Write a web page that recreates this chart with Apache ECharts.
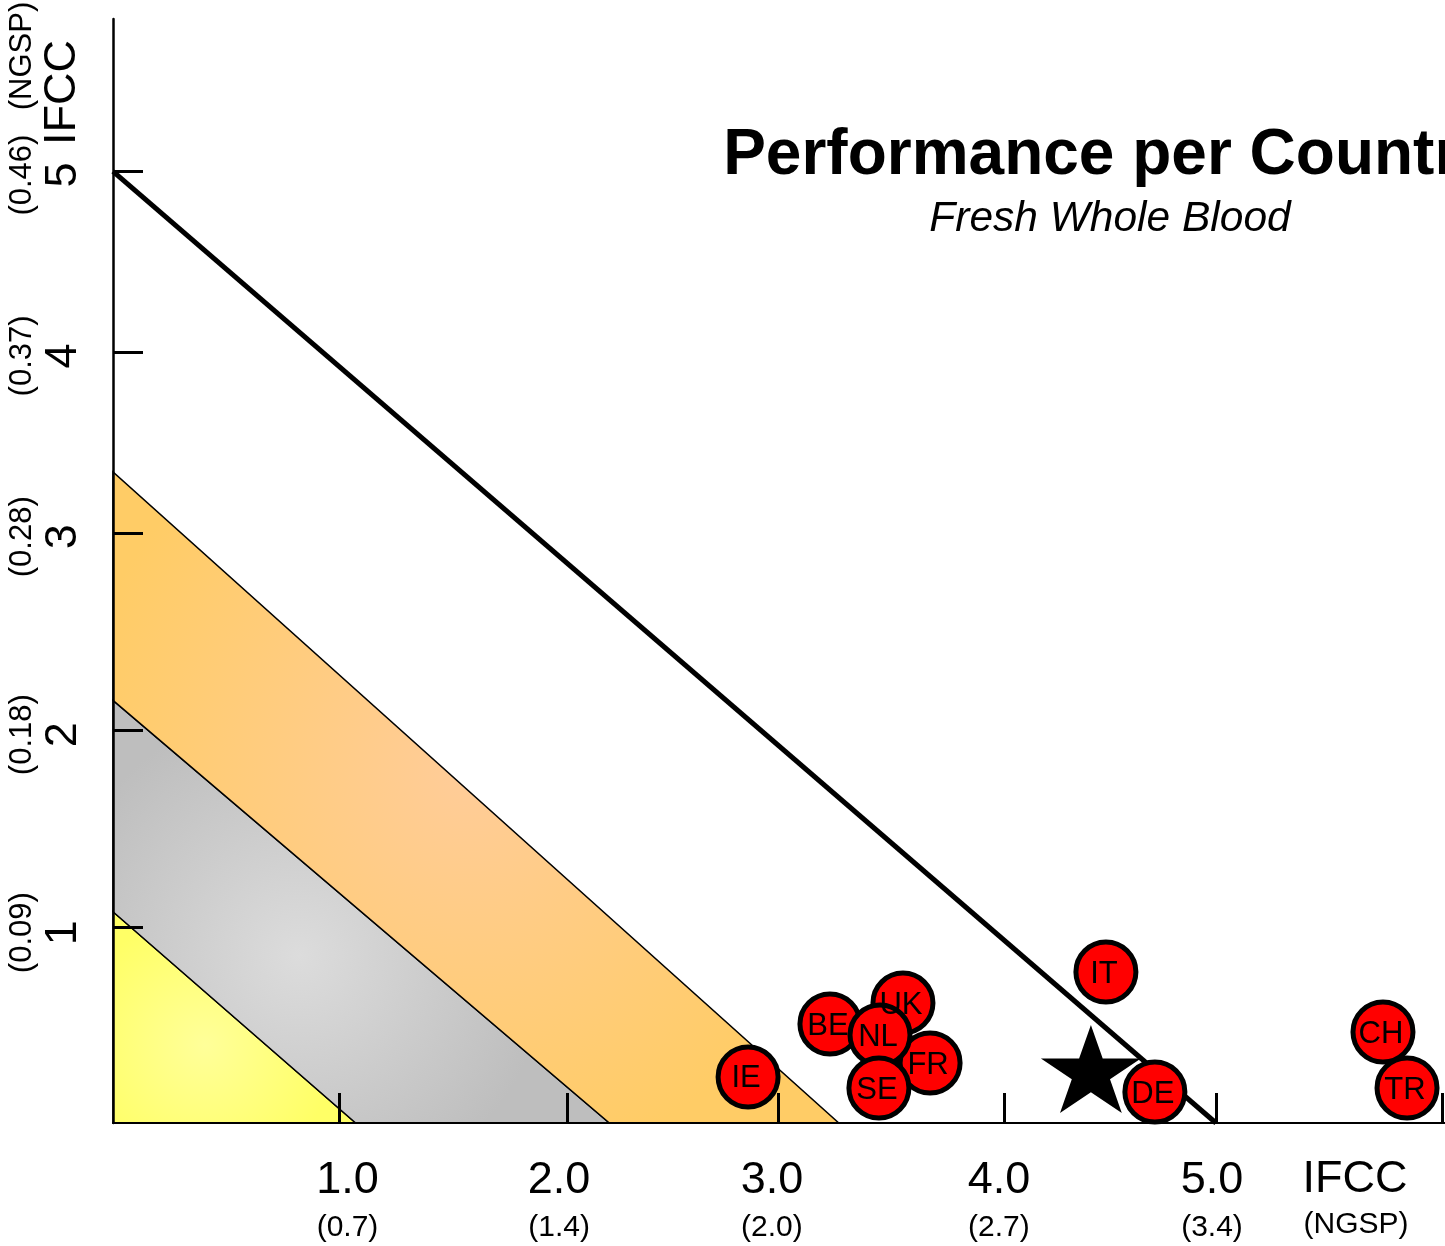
<!DOCTYPE html>
<html><head><meta charset="utf-8">
<script src="https://cdn.jsdelivr.net/npm/echarts@6/dist/echarts.min.js"></script>
<style>html,body{margin:0;padding:0;background:#fff;overflow:hidden}#c{width:1445px;height:1246px}</style>
</head><body><div id="c"></div>
<script>
// ---- data ----
const countries = ['BE','UK','FR','NL','SE','IE','IT','DE','CH','TR'];
const countryX  = [3.250, 3.581, 3.704, 3.477, 3.472, 2.879, 4.501, 4.723, 5.757, 5.866];
const countryY  = [0.520, 0.630, 0.315, 0.462, 0.184, 0.242, 0.793, 0.163, 0.478, 0.184];
const targetName = ['Target'];
const targetX = [4.433];
const targetY = [0.284];
const diagonalX = [0, 5];
const diagonalY = [5, 0];
const bandNames = ['band1', 'band2', 'band3'];
const bandXIntercepts = [1.10, 2.25, 3.29];
const bandYIntercepts = [1.11, 2.22, 3.42];
const xTickValues  = [1.024, 2.058, 3.014, 4.039, 5.000, 6.024];
const xLabelValues = [1.063, 2.022, 2.987, 4.016, 4.982];
const xTickLabels  = ['1.0', '2.0', '3.0', '4.0', '5.0'];
const xTickNgsp    = ['(0.7)', '(1.4)', '(2.0)', '(2.7)', '(3.4)'];
const yTickValues  = [1.029, 2.064, 3.099, 4.050, 5.000];
const yLabelValues = [1.000, 2.040, 3.080, 4.030, 4.980];
const yTickLabels  = ['1', '2', '3', '4', '5'];
const yTickNgsp    = ['(0.09)', '(0.18)', '(0.28)', '(0.37)', '(0.46)'];

// ---- styles ----
const FONT = 'Liberation Sans';
const bandStyles = [
  {c0: '#FFFF99', c1: '#FFFF66', gx: 0.38, gy: 0.63, gr: 0.62},
  {c0: '#DCDCDC', c1: '#BEBEBE', gx: 0.376, gy: 0.603, gr: 0.59},
  {c0: '#FFCC99', c1: '#FFCC66', gx: 0.49, gy: 0.46, gr: 0.61}
];
const starPath = 'path://M50,0 L61.23,34.55 L97.55,34.55 L68.16,55.9 L79.39,90.45 L50,69.1 L20.61,90.45 L31.84,55.9 L2.45,34.55 L38.77,34.55 Z';

const bandData = bandNames.map((n, i) => ({
  name: n,
  value: [i ? bandXIntercepts[i - 1] : 0, i ? bandYIntercepts[i - 1] : 0, bandXIntercepts[i], bandYIntercepts[i], i]
}));

const chart = echarts.init(document.getElementById('c'), null, {renderer: 'canvas'});
chart.setOption({
  animation: false,
  backgroundColor: '#fff',
  textStyle: {fontFamily: FONT},
  grid: {left: 113, top: 19, width: 1367.7, height: 1104, containLabel: false, outerBoundsMode: 'none'},
  xAxis: {
    type: 'value', min: 0, max: 6.2, z: 3,
    splitLine: {show: false},
    axisLine: {show: true, onZero: false, lineStyle: {color: '#000', width: 2}},
    axisTick: {show: true, inside: true, length: 30, lineStyle: {color: '#000', width: 3}, customValues: xTickValues},
    axisLabel: {
      margin: 33, customValues: xLabelValues,
      formatter: (v, idx) => {
        const i = xLabelValues.indexOf(v);
        const k = i >= 0 ? i : idx;
        return (k >= 0 && k < xTickLabels.length) ? '{b|' + xTickLabels[k] + '}\n{n|' + xTickNgsp[k] + '}' : '';
      },
      rich: {
        b: {fontSize: 45, lineHeight: 50, color: '#000', fontFamily: FONT},
        n: {fontSize: 30, lineHeight: 43, color: '#000', fontFamily: FONT}
      }
    }
  },
  yAxis: {
    type: 'value', min: 0, max: 5.8, z: 3,
    splitLine: {show: false},
    axisLine: {show: true, onZero: false, lineStyle: {color: '#000', width: 2.5}},
    axisTick: {show: true, inside: true, length: 30, lineStyle: {color: '#000', width: 3}, customValues: yTickValues},
    axisLabel: {
      margin: 27, rotate: 90, customValues: yLabelValues,
      formatter: (v, idx) => {
        const i = yLabelValues.indexOf(v);
        const k = i >= 0 ? i : idx;
        return (k >= 0 && k < yTickLabels.length) ? '{n|' + yTickNgsp[k] + '}\n{b|' + yTickLabels[k] + '}' : '';
      },
      rich: {
        b: {fontSize: 45, lineHeight: 45, color: '#000', fontFamily: FONT},
        n: {fontSize: 31, lineHeight: 38, color: '#000', fontFamily: FONT}
      }
    }
  },
  graphic: [
    {type: 'text', x: 1109, y: 156, style: {text: 'Performance per Country', fontSize: 64, fontWeight: 'bold', fontFamily: FONT, fill: '#000', align: 'center', verticalAlign: 'middle'}},
    {type: 'text', x: 1110, y: 219.5, style: {text: 'Fresh Whole Blood', fontSize: 42.5, fontStyle: 'italic', fontFamily: FONT, fill: '#000', align: 'center', verticalAlign: 'middle'}},
    {type: 'text', x: 1355, y: 1180, style: {text: 'IFCC', fontSize: 45, fontFamily: FONT, fill: '#000', align: 'center', verticalAlign: 'middle'}},
    {type: 'text', x: 1356, y: 1225, style: {text: '(NGSP)', fontSize: 30, fontFamily: FONT, fill: '#000', align: 'center', verticalAlign: 'middle'}},
    {type: 'text', x: 62.5, y: 92.5, rotation: Math.PI / 2, style: {text: 'IFCC', fontSize: 45, fontFamily: FONT, fill: '#000', align: 'center', verticalAlign: 'middle'}},
    {type: 'text', x: 22.5, y: 56, rotation: Math.PI / 2, style: {text: '(NGSP)', fontSize: 31, fontFamily: FONT, fill: '#000', align: 'center', verticalAlign: 'middle'}}
  ],
  series: [
    {
      type: 'custom', name: 'bands', coordinateSystem: 'cartesian2d', z: 1,
      data: bandData, silent: true, clip: false,
      encode: {x: [0, 2], y: [1, 3]},
      renderItem: (params, api) => {
        const ix = api.value(0), iy = api.value(1), ox = api.value(2), oy = api.value(3);
        const s = bandStyles[api.value(4)];
        const pts = [api.coord([0, iy]), api.coord([0, oy]), api.coord([ox, 0]), api.coord([ix, 0])];
        return {
          type: 'polygon', shape: {points: pts},
          style: {
            fill: new echarts.graphic.RadialGradient(s.gx, s.gy, s.gr, [{offset: 0, color: s.c0}, {offset: 1, color: s.c1}]),
            stroke: '#000', lineWidth: 1.5
          }
        };
      }
    },
    {
      type: 'line', name: 'limit', z: 2, silent: true,
      data: diagonalX.map((x, i) => [x, diagonalY[i]]),
      showSymbol: false, symbol: 'none',
      lineStyle: {color: '#000', width: 5}
    },
    {
      type: 'scatter', name: 'target', z: 5, silent: true,
      symbol: starPath, symbolSize: [100, 88],
      data: targetX.map((x, i) => ({name: targetName[i], value: [x, targetY[i]]})),
      itemStyle: {color: '#000', opacity: 1}
    },
    {
      type: 'scatter', name: 'countries', z: 6, silent: true,
      symbol: 'circle', symbolSize: 60,
      data: countries.map((n, i) => ({name: n, value: [countryX[i], countryY[i]]})),
      itemStyle: {color: '#FF0000', borderColor: '#000', borderWidth: 5, opacity: 1},
      label: {show: true, position: 'inside', offset: [-2, 2], formatter: '{b}', color: '#000', fontSize: 31, fontFamily: FONT}
    }
  ]
});
</script>
</body></html>
